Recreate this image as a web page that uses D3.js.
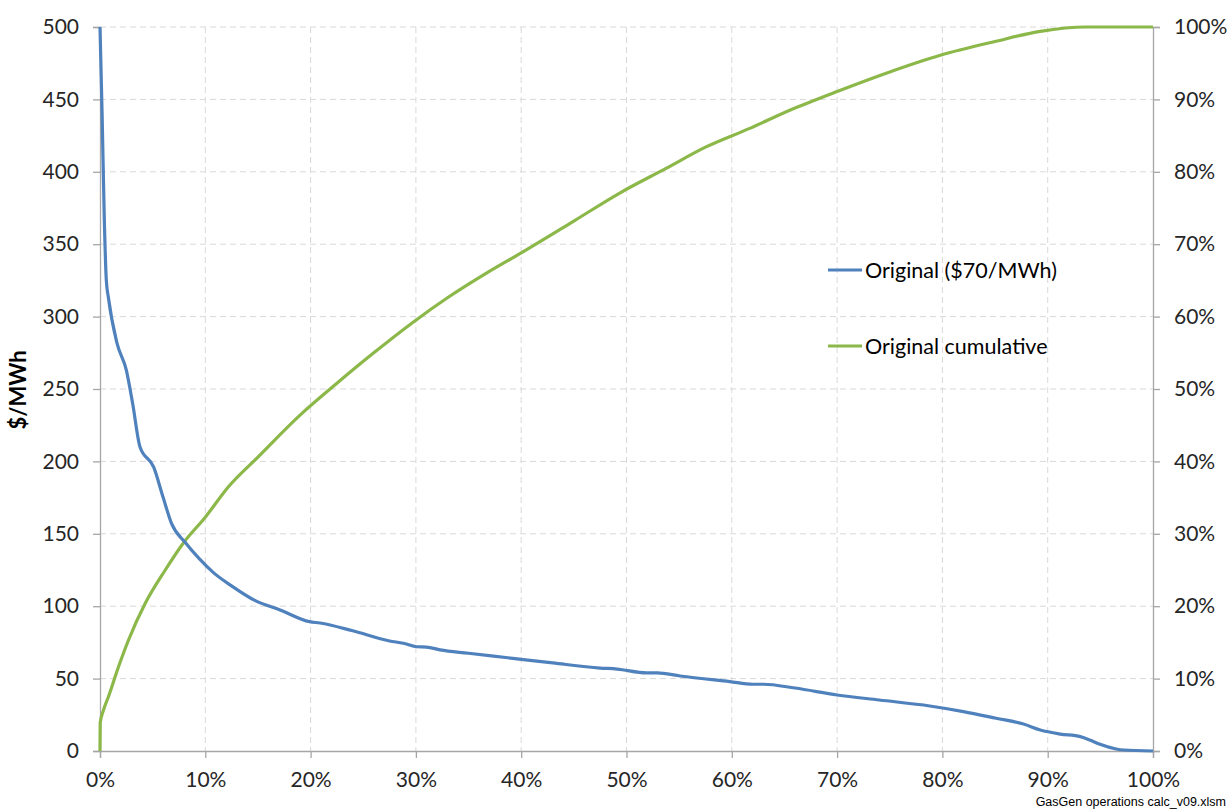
<!DOCTYPE html>
<html><head><meta charset="utf-8">
<script src="https://cdn.jsdelivr.net/npm/d3@7"></script>
<style>
body{margin:0;background:#fff;}
svg{display:block;font-family:Lato,"Liberation Sans",sans-serif;}
</style></head><body>
<svg id="c" width="1231" height="811"></svg>
<script>
const xTicks = [0,10,20,30,40,50,60,70,80,90,100];
const yLeftTicks = [0,50,100,150,200,250,300,350,400,450,500];
const yRightTicks = [0,10,20,30,40,50,60,70,80,90,100];
const seriesNames = ["Original ($70/MWh)", "Original cumulative"];
// Blue: price duration ($/MWh) vs % of time
const blueX = [0,0.2,0.4,0.6,0.8,1.6,2.5,3.1,3.8,5.1,6,6.8,8.1,9.4,10.8,12.5,14.7,17.1,19.9,20.9,24,27.5,28.8,30.1,31,32.3,35,39.2,43,47.5,49.1,51.9,52.9,55.1,59.8,62,63,66,70,74,78.8,82,85.1,87.7,89.3,91.2,93.1,94,94.9,96.5,97.2,100];
const blueY = [500,440,370,325,313,282,263,240,210,196,175,157,144,133,123,114,104,97.4,89.3,88.4,83,76,74.4,72,71.8,69.8,67.5,64,60.8,57.3,56.6,54,54,51.8,47.9,46.1,46.1,43.5,38.7,35.2,31.1,27.2,22.6,18.6,14.5,11.7,9.9,7.6,4.8,1.4,0.7,0];
// Green: cumulative share (%)
const greenX = [0,0.02,0.3,0.8,1.75,2.7,4.3,6.2,7.9,10,12.2,15,19,22.5,26,29.8,33,36.7,40,45,49.4,53.8,57.5,61.7,66,70,75,79.8,85,89.3,93.6,100];
const greenY = [0,3.9,5.5,7.5,11.6,15.3,20.4,25,28.7,32.3,36.5,40.6,46.4,50.8,55,59.3,62.6,66,68.8,73.2,77.1,80.5,83.4,86,88.8,91.1,93.8,96.1,98,99.4,100,100];

const svg = d3.select("#c");
const L=100, R=1153, T=27, B=751;
const x = d3.scaleLinear().domain([0,100]).range([L,R]);
const yL = d3.scaleLinear().domain([0,500]).range([B,T]);
const yR = d3.scaleLinear().domain([0,100]).range([B,T]);
const textColor="#262626", axisColor="#a6a6a6", gridColor="#d9d9d9";

// gridlines
svg.append("g").selectAll("line").data(yLeftTicks.filter(d=>d>0)).join("line")
  .attr("x1",L).attr("x2",R).attr("y1",d=>yL(d)).attr("y2",d=>yL(d))
  .attr("stroke",gridColor).attr("stroke-dasharray","6,4").attr("stroke-width",1);
svg.append("g").selectAll("line").data(xTicks.filter(d=>d>0&&d<100)).join("line")
  .attr("y1",T).attr("y2",B).attr("x1",d=>x(d)).attr("x2",d=>x(d))
  .attr("stroke",gridColor).attr("stroke-dasharray","6,4").attr("stroke-width",1);

function styleAxis(g){
  g.selectAll(".domain").attr("stroke",axisColor).attr("stroke-width",1.3);
  g.selectAll(".tick line").attr("stroke",axisColor).attr("stroke-width",1.3);
  g.selectAll("text").attr("fill",textColor).style("font-size","21px").style("font-family","Lato, 'Liberation Sans', sans-serif");
}
svg.append("g").attr("transform",`translate(${L},0)`)
  .call(d3.axisLeft(yL).tickValues(yLeftTicks).tickSizeOuter(0).tickSize(7).tickPadding(14))
  .call(styleAxis);
svg.append("g").attr("transform",`translate(${R},0)`)
  .call(d3.axisRight(yR).tickValues(yRightTicks).tickFormat(d=>d+"%").tickSizeOuter(0).tickSize(7).tickPadding(14))
  .call(styleAxis);
svg.append("g").attr("transform",`translate(0,${B})`)
  .call(d3.axisBottom(x).tickValues(xTicks).tickFormat(d=>d+"%").tickSizeOuter(0).tickSize(7).tickPadding(14))
  .call(styleAxis);

// lines
const blueLine = d3.line().x((d,i)=>x(blueX[i])).y(d=>yL(d)).curve(d3.curveMonotoneX);
const greenLine = d3.line().x((d,i)=>x(greenX[i])).y(d=>yR(d)).curve(d3.curveMonotoneX);
svg.append("path").attr("d",greenLine(greenY)).attr("fill","none").attr("stroke","#8cb84a").attr("stroke-width",3.2);
svg.append("path").attr("d",blueLine(blueY)).attr("fill","none").attr("stroke","#4f81bd").attr("stroke-width",3.2);

// y label
svg.append("text").attr("transform","translate(26,390) rotate(-90)").attr("text-anchor","middle")
  .attr("fill","#000").style("font-size","22px").style("font-weight","bold").text("$/MWh");

// legend
const legColors=["#4f81bd","#8cb84a"];
const legY=[270,346];
seriesNames.forEach((n,i)=>{
  svg.append("line").attr("x1",828).attr("x2",862).attr("y1",legY[i]).attr("y2",legY[i])
    .attr("stroke",legColors[i]).attr("stroke-width",3.2);
  svg.append("text").attr("x",865).attr("y",legY[i]).attr("dy","0.35em").attr("fill","#000")
    .style("font-size","21.5px").text(n);
});

// footnote
svg.append("text").attr("x",1226).attr("y",806).attr("text-anchor","end").attr("fill","#000")
  .style("font-size","12.5px").style("font-family","'Liberation Sans', sans-serif").text("GasGen operations calc_v09.xlsm");
</script></body></html>
